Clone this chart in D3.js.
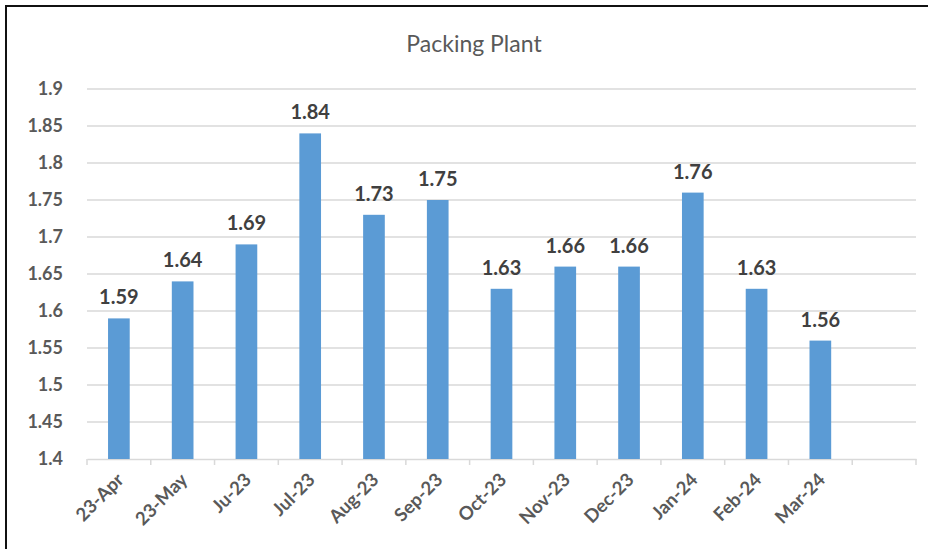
<!DOCTYPE html>
<html>
<head>
<meta charset="utf-8">
<script src="https://cdn.jsdelivr.net/npm/d3@7"></script>
<style>
  body { margin: 0; background: #fff; }
  svg text { font-family: Lato, "Open Sans", sans-serif; }
</style>
</head>
<body>
<div id="chart"></div>
<script>
// Data
var months = ["23-Apr", "23-May", "Ju-23", "Jul-23", "Aug-23", "Sep-23", "Oct-23",
              "Nov-23", "Dec-23", "Jan-24", "Feb-24", "Mar-24", ""];
var values = [1.59, 1.64, 1.69, 1.84, 1.73, 1.75, 1.63, 1.66, 1.66, 1.76, 1.63, 1.56];
var yTicks = [1.4, 1.45, 1.5, 1.55, 1.6, 1.65, 1.7, 1.75, 1.8, 1.85, 1.9];

var w = 928, h = 549;
var plotLeft = 87, plotRight = 916, plotTop = 89, plotBottom = 459;

var svg = d3.select("#chart").append("svg")
    .attr("width", w)
    .attr("height", h);

// frame (top and left edges visible)
svg.append("path")
    .attr("d", "M6,549 V6 H928")
    .attr("fill", "none")
    .attr("stroke", "#111")
    .attr("stroke-width", 2);

var xScale = d3.scaleBand()
    .domain(months)
    .range([plotLeft, plotRight])
    .paddingInner(0.66)
    .paddingOuter(0.33);

var xPos = d3.scaleBand().domain(months).range([plotLeft, plotRight]);

var yScale = d3.scaleLinear()
    .domain([1.4, 1.9])
    .range([plotBottom, plotTop]);

// gridlines
svg.append("g")
    .selectAll("line")
    .data(yTicks.slice(1))
    .enter()
    .append("line")
    .attr("x1", plotLeft)
    .attr("x2", plotRight)
    .attr("y1", function(d) { return yScale(d); })
    .attr("y2", function(d) { return yScale(d); })
    .attr("stroke", "#d9d9d9")
    .attr("stroke-width", 1.3);

// y axis labels
var yAxis = svg.append("g")
    .attr("transform", "translate(" + plotLeft + ",0)")
    .call(d3.axisLeft(yScale).tickValues(yTicks).tickSize(0).tickPadding(24)
        .tickFormat(function(d) { return d3.format("")(+d.toFixed(2)); }));
yAxis.select(".domain").remove();
yAxis.selectAll("text")
    .attr("fill", "#595959")
    .attr("font-size", "18px")
    .attr("font-weight", "bold");

// x axis
var xAxis = svg.append("g")
    .attr("transform", "translate(0," + plotBottom + ")")
    .call(d3.axisBottom(xPos).tickSize(0).tickPadding(0));
xAxis.select(".domain")
    .attr("stroke", "#d9d9d9")
    .attr("stroke-width", 1.5);
// tick marks at band boundaries
svg.append("g")
    .selectAll("line")
    .data(months.concat(["end"]))
    .enter()
    .append("line")
    .attr("x1", function(d, i) { return plotLeft + i * xPos.step(); })
    .attr("x2", function(d, i) { return plotLeft + i * xPos.step(); })
    .attr("y1", plotBottom)
    .attr("y2", plotBottom + 6)
    .attr("stroke", "#d9d9d9")
    .attr("stroke-width", 1.5);

xAxis.selectAll("text")
    .attr("fill", "#595959")
    .attr("font-size", "18.5px")
    .attr("font-weight", "bold")
    .attr("text-anchor", "end")
    .attr("dy", "0")
    .attr("transform", "translate(6,22) rotate(-45)");

// bars
svg.append("g")
    .selectAll("rect")
    .data(values)
    .enter()
    .append("rect")
    .attr("x", function(d, i) { return xScale(months[i]); })
    .attr("y", function(d) { return yScale(d); })
    .attr("width", xScale.bandwidth())
    .attr("height", function(d) { return plotBottom - yScale(d); })
    .attr("fill", "#5b9bd5");

// data labels
svg.append("g")
    .selectAll("text")
    .data(values)
    .enter()
    .append("text")
    .attr("x", function(d, i) { return xScale(months[i]) + xScale.bandwidth() / 2; })
    .attr("y", function(d) { return yScale(d) - 14; })
    .attr("text-anchor", "middle")
    .attr("fill", "#404040")
    .attr("font-size", "20px")
    .attr("font-weight", "bold")
    .text(function(d) { return d.toFixed(2); });

// title
svg.append("text")
    .attr("x", 474)
    .attr("y", 52)
    .attr("text-anchor", "middle")
    .attr("fill", "#595959")
    .attr("font-size", "23px")
    .text("Packing Plant");
</script>
</body>
</html>
